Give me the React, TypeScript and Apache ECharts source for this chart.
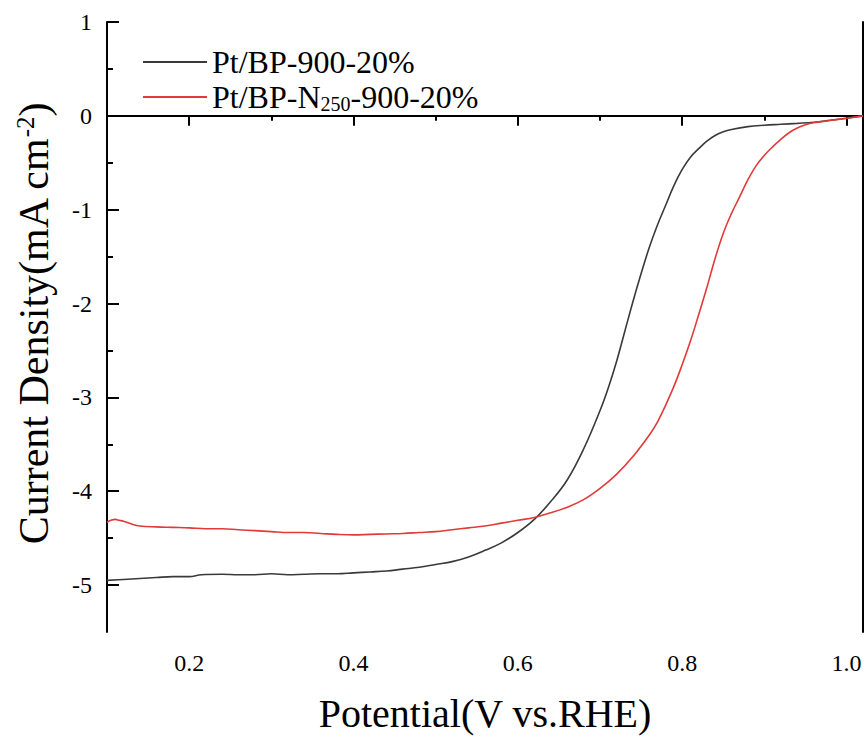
import React, { useEffect, useRef } from 'react';
import * as echarts from 'echarts';

const FONT = 'Liberation Serif';

const seriesNames = ['Pt/BP-900-20%', 'Pt/BP-N250-900-20%'];
const seriesColors = ['#3a3a3a', '#e23a3a'];

const xTitle = 'Potential(V vs.RHE)';
const yTitle = 'Current Density(mA cm{sup|-2})';

const xMajorTicks = [0.2, 0.4, 0.6, 0.8, 1.0];
const xMinorTicks = [0.1, 0.3, 0.5, 0.7, 0.9];
const yMajorTicks = [-5, -4, -3, -2, -1, 0, 1];
const yMinorTicks = [-4.5, -3.5, -2.5, -1.5, -0.5, 0.5];
const xTickLabels = ['0.2', '0.4', '0.6', '0.8', '1.0'];
const yTickLabels = ['-5', '-4', '-3', '-2', '-1', '0', '1'];

// Pt/BP-900-20%
const blackX = [
  0.1, 0.12, 0.14, 0.16, 0.18, 0.2, 0.215, 0.24, 0.26, 0.28, 0.3, 0.32, 0.34, 0.36, 0.38, 0.4,
  0.42, 0.44, 0.46, 0.48, 0.5, 0.52, 0.54, 0.56, 0.58, 0.6, 0.62, 0.64, 0.66, 0.68, 0.7, 0.71,
  0.72, 0.73, 0.74, 0.75, 0.76, 0.77, 0.78, 0.79, 0.8, 0.81, 0.82, 0.83, 0.84, 0.85, 0.86, 0.88,
  0.9, 0.92, 0.94, 0.96, 0.98, 1.0, 1.02,
];
const blackY = [
  -4.95, -4.94, -4.93, -4.92, -4.91, -4.91, -4.89, -4.885, -4.89, -4.89, -4.88, -4.89, -4.885, -4.88, -4.88, -4.87,
  -4.86, -4.85, -4.83, -4.81, -4.78, -4.75, -4.7, -4.63, -4.55, -4.44, -4.3, -4.11, -3.88, -3.55, -3.14, -2.9,
  -2.62, -2.3, -1.98, -1.68, -1.4, -1.16, -0.95, -0.74, -0.57, -0.44, -0.35, -0.27, -0.21, -0.17, -0.145, -0.115,
  -0.1, -0.09, -0.08, -0.068, -0.047, -0.025, 0.0,
];

// Pt/BP-N250-900-20%
const redX = [
  0.1, 0.105, 0.11, 0.115, 0.12, 0.13, 0.14, 0.16, 0.18, 0.2, 0.22, 0.24, 0.26, 0.28, 0.3, 0.32,
  0.34, 0.36, 0.38, 0.4, 0.42, 0.44, 0.46, 0.48, 0.5, 0.52, 0.54, 0.56, 0.58, 0.6, 0.62, 0.64,
  0.66, 0.68, 0.7, 0.72, 0.74, 0.76, 0.77, 0.78, 0.79, 0.8, 0.81, 0.82, 0.83, 0.84, 0.85, 0.86,
  0.87, 0.88, 0.89, 0.9, 0.91, 0.92, 0.93, 0.94, 0.95, 0.96, 0.98, 1.0, 1.02,
];
const redY = [
  -4.33, -4.31, -4.3, -4.31, -4.32, -4.35, -4.37, -4.38, -4.385, -4.39, -4.4, -4.4, -4.41, -4.42, -4.43, -4.44,
  -4.44, -4.45, -4.46, -4.465, -4.46, -4.455, -4.45, -4.44, -4.43, -4.41, -4.39, -4.37, -4.34, -4.31, -4.28, -4.23,
  -4.17, -4.09, -3.97, -3.82, -3.63, -3.4, -3.26, -3.08, -2.88, -2.65, -2.4, -2.12, -1.83, -1.52, -1.25, -1.04,
  -0.86, -0.68, -0.53, -0.42, -0.33, -0.25, -0.18, -0.13, -0.095, -0.073, -0.05, -0.025, 0.0,
];

const xMin = 0.1;
const xMax = 1.02;
const yMin = -5.5;
const yMax = 1;

const axisBlack = { color: '#000', width: 2 };

const plainAxis = (min: number, max: number, position: string, extra: any) => ({
  type: 'value',
  min,
  max,
  position,
  axisLine: { show: false },
  axisTick: { show: false },
  axisLabel: { show: false },
  splitLine: { show: false },
  ...extra,
});

export default function App() {
  const ref = useRef<HTMLDivElement>(null);

  useEffect(() => {
    if (!ref.current) return;
    const chart = echarts.init(ref.current, null, { renderer: 'svg' });
    const pairs = (xs: number[], ys: number[]) => xs.map((x, i) => [x, ys[i]]);

    chart.setOption({
      animation: false,
      backgroundColor: '#fff',
      textStyle: { fontFamily: FONT, color: '#000' },
      grid: { left: 107, top: 22, right: 4, bottom: 105, containLabel: false },
      legend: {
        show: true,
        orient: 'vertical',
        left: 138,
        top: 40,
        icon: 'rect',
        itemWidth: 64,
        itemHeight: 2,
        itemGap: 1,
        data: seriesNames,
        formatter: (name: string) =>
          name === seriesNames[1] ? 'Pt/BP-N{sub|250}-900-20%' : name,
        textStyle: {
          fontFamily: FONT,
          fontSize: 32,
          lineHeight: 34,
          color: '#000',
          rich: {
            sub: { fontFamily: FONT, fontSize: 20, lineHeight: 12, verticalAlign: 'bottom', color: '#000' },
          },
        },
      },
      xAxis: [
        plainAxis(xMin, xMax, 'bottom', {
          axisLine: { show: true, lineStyle: axisBlack },
          axisTick: { show: true, inside: false, length: 10, customValues: xMajorTicks, lineStyle: axisBlack },
        }),
        plainAxis(xMin, xMax, 'bottom', {
          axisTick: { show: true, inside: false, length: 5, customValues: xMinorTicks, lineStyle: axisBlack },
        }),
        plainAxis(xMin, xMax, 'top', { axisLine: { show: true, lineStyle: axisBlack } }),
      ],
      yAxis: [
        plainAxis(yMin, yMax, 'left', {
          axisLine: { show: true, lineStyle: axisBlack },
          axisTick: { show: true, inside: true, length: 12, customValues: yMajorTicks, lineStyle: axisBlack },
        }),
        plainAxis(yMin, yMax, 'left', {
          axisTick: { show: true, inside: true, length: 6, customValues: yMinorTicks, lineStyle: axisBlack },
        }),
        plainAxis(yMin, yMax, 'right', { axisLine: { show: true, lineStyle: axisBlack } }),
      ],
      series: [
        {
          name: seriesNames[0],
          type: 'line',
          xAxisIndex: 0,
          yAxisIndex: 0,
          data: pairs(blackX, blackY),
          smooth: 0.4,
          symbol: 'none',
          lineStyle: { color: seriesColors[0], width: 1.6 },
          itemStyle: { color: seriesColors[0] },
        },
        {
          name: seriesNames[1],
          type: 'line',
          xAxisIndex: 0,
          yAxisIndex: 0,
          data: pairs(redX, redY),
          smooth: 0.4,
          symbol: 'none',
          lineStyle: { color: seriesColors[1], width: 1.6 },
          itemStyle: { color: seriesColors[1] },
        },
      ],
    });

    // Tick labels placed through the chart's own axis scales
    const xAxisY = chart.convertToPixel({ yAxisIndex: 0 }, yMin) as number;
    const yAxisX = chart.convertToPixel({ xAxisIndex: 0 }, xMin) as number;

    const xLabelEls = xMajorTicks.map((v, i) => ({
      type: 'text',
      id: 'xl' + i,
      x: chart.convertToPixel({ xAxisIndex: 0 }, v) as number,
      y: xAxisY + 31,
      style: {
        text: xTickLabels[i],
        fontFamily: FONT,
        fontSize: 24,
        fill: '#000',
        textAlign: 'center',
        textVerticalAlign: 'middle',
      },
    }));
    const yLabelEls = yMajorTicks.map((v, i) => ({
      type: 'text',
      id: 'yl' + i,
      x: yAxisX - 15,
      y: chart.convertToPixel({ yAxisIndex: 0 }, v) as number,
      style: {
        text: yTickLabels[i],
        fontFamily: FONT,
        fontSize: 24,
        fill: '#000',
        textAlign: 'right',
        textVerticalAlign: 'middle',
      },
    }));

    chart.setOption({
      graphic: [
        ...xLabelEls,
        ...yLabelEls,
        {
          type: 'text',
          id: 'xtitle',
          x: 485,
          y: 713,
          style: {
            text: xTitle,
            fontFamily: FONT,
            fontSize: 40,
            fill: '#000',
            textAlign: 'center',
            textVerticalAlign: 'middle',
          },
        },
        {
          type: 'text',
          id: 'ytitle',
          x: 34,
          y: 324,
          rotation: Math.PI / 2,
          style: {
            text: yTitle,
            fontFamily: FONT,
            fontSize: 42,
            fill: '#000',
            textAlign: 'center',
            textVerticalAlign: 'middle',
            rich: {
              sup: { fontFamily: FONT, fontSize: 25, lineHeight: 42, verticalAlign: 'top', fill: '#000' },
            },
          },
        },
      ],
    });

    return () => chart.dispose();
  }, []);

  return (
    <div
      ref={ref}
      style={{ position: 'fixed', left: 0, top: 0, width: 867, height: 737, background: '#fff' }}
    />
  );
}
